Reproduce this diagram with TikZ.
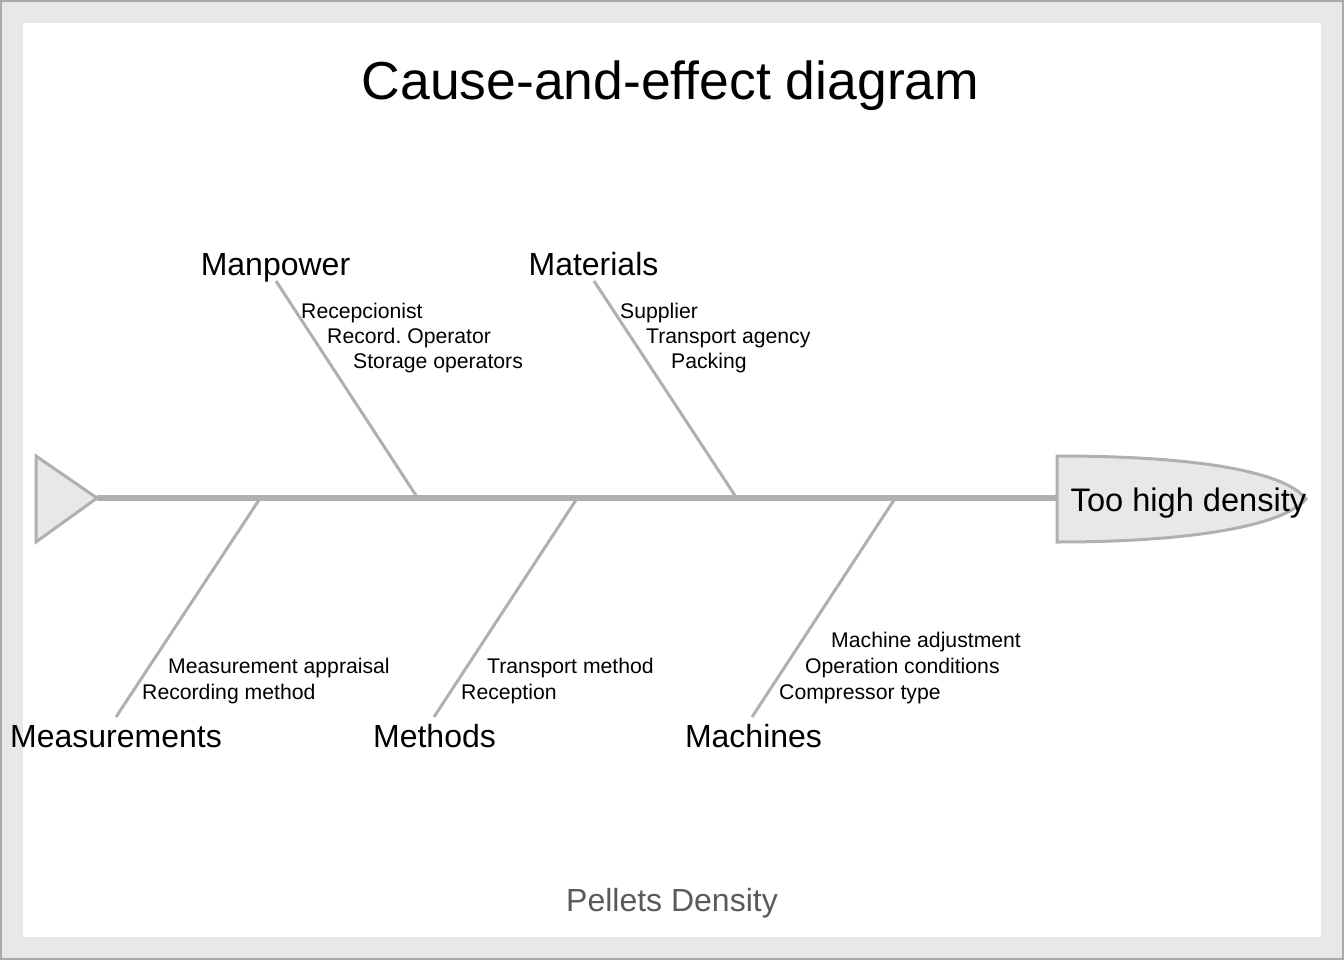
\documentclass[tikz,border=0pt]{standalone}
\usepackage{fontspec}
\setmainfont{Liberation Sans}
\definecolor{framegray}{RGB}{170,170,170}
\definecolor{bggray}{RGB}{232,232,232}
\definecolor{bonegray}{RGB}{176,176,176}
\definecolor{subgray}{RGB}{90,90,90}
\begin{document}
\frenchspacing
\begin{tikzpicture}[x=1pt,y=-1pt,
  titletext/.style={font=\fontsize{53.5}{60}\selectfont, anchor=base, inner sep=0pt},
  subtext/.style={font=\fontsize{32}{37}\selectfont, text=subgray, anchor=base, inner sep=0pt},
  cat/.style={font=\fontsize{32}{37}\selectfont, anchor=base, inner sep=0pt},
  effecttext/.style={font=\fontsize{32.6}{37}\selectfont, anchor=base, inner sep=0pt},
  cause/.style={font=\fontsize{21.2}{25}\selectfont, anchor=base west, inner sep=0pt},
  bone/.style={draw=bonegray, line width=3pt},
  spine/.style={draw=bonegray, line width=6pt},
  ]
\useasboundingbox (0,0) rectangle (1344,960);
\fill[framegray] (0,0) rectangle (1344,960);
\fill[bggray] (2,2) rectangle (1342,958);
\fill[white] (23,23) rectangle (1321,937);

% title and subtitle
\node[titletext] (title) at (670.5,100) {Cause-and-effect diagram};
\node[subtext] (sub) at (672,911) {Pellets Density};

% tail
\draw[draw=bonegray, fill=bggray, line width=3pt, line join=miter]
  (36,456) -- (97,498) -- (36,542) -- cycle;
\coordinate (tail) at (97,498);

% head
\draw[draw=bonegray, fill=bggray, line width=3pt]
  (1057,456) .. controls (1200,456) and (1285,472) .. (1306,499)
  .. controls (1285,524) and (1200,542) .. (1057,542) -- cycle;
\coordinate (headL) at (1057,498);
\node[effecttext] (effect) at (1188.5,511) {Too high density};

% spine
\draw[spine] (tail) -- (headL);

% upper categories
\node[cat] (manpower) at (275.5,276) {Manpower};
\node[cat] (materials) at (593.5,276) {Materials};
\coordinate (mpA) at (276,281);
\coordinate (mpB) at (417,497);
\coordinate (maA) at (594,281);
\coordinate (maB) at (736,497);
\draw[bone] (mpA) -- (mpB);
\draw[bone] (maA) -- (maB);

\node[cause] (c1) at (301,318) {Recepcionist};
\node[cause] (c2) at (327,343.5) {Record. Operator};
\node[cause] (c3) at (353,368.5) {Storage operators};
\node[cause] (c4) at (620,318) {Supplier};
\node[cause] (c5) at (646,343.5) {Transport agency};
\node[cause] (c6) at (671,368.5) {Packing};

% lower categories
\node[cat] (measurements) at (116,747) {Measurements};
\node[cat] (methods) at (434.5,747) {Methods};
\node[cat] (machines) at (753.5,747) {Machines};
\coordinate (meA) at (259,500);
\coordinate (meB) at (116,717);
\coordinate (mtA) at (576,500);
\coordinate (mtB) at (434,717);
\coordinate (mcA) at (894,500);
\coordinate (mcB) at (752,717);
\draw[bone] (meA) -- (meB);
\draw[bone] (mtA) -- (mtB);
\draw[bone] (mcA) -- (mcB);

\node[cause] (d1) at (168,673) {Measurement appraisal};
\node[cause] (d2) at (142,699) {Recording method};
\node[cause] (d3) at (487,673) {Transport method};
\node[cause] (d4) at (461,699) {Reception};
\node[cause] (d5) at (831,647.5) {Machine adjustment};
\node[cause] (d6) at (805,673) {Operation conditions};
\node[cause] (d7) at (779,699) {Compressor type};
\end{tikzpicture}
\end{document}
